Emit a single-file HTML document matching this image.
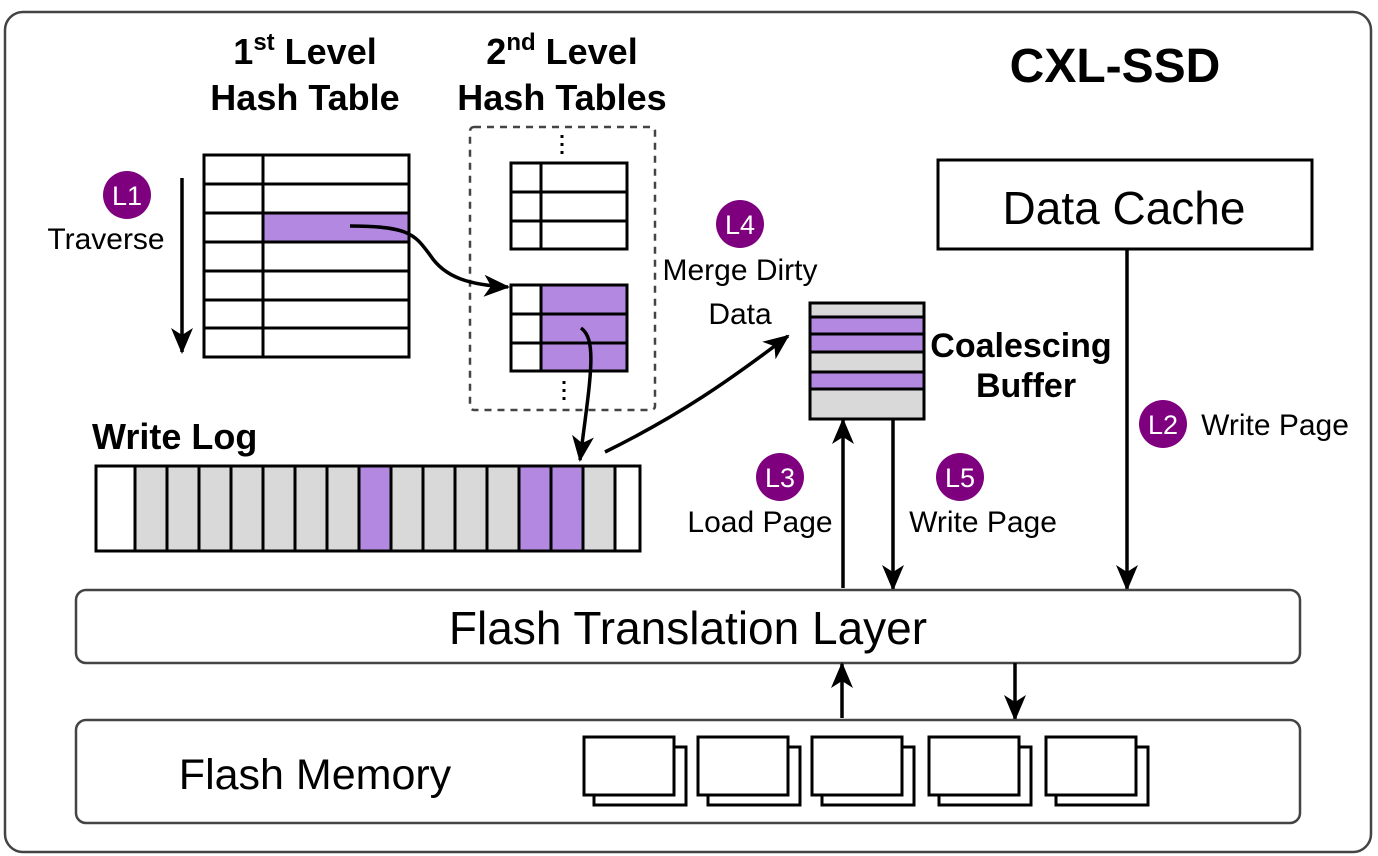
<!DOCTYPE html>
<html><head><meta charset="utf-8"><style>
html,body{margin:0;padding:0;background:#fff;}
svg{display:block;font-family:"Liberation Sans",sans-serif;}
</style></head><body>
<svg width="1378" height="856" viewBox="0 0 1378 856" xmlns="http://www.w3.org/2000/svg">
<defs>
<marker id="ah" viewBox="0 0 26 22" refX="24" refY="11" markerWidth="26" markerHeight="22" markerUnits="userSpaceOnUse" orient="auto">
<path d="M0,0 L26,11 L0,22 L7,11 z" fill="#000"/>
</marker>
</defs>
<rect x="5" y="12" width="1366" height="840" rx="18" fill="#fff" stroke="#444" stroke-width="2.5"/>

<!-- titles -->
<text x="1115" y="82" font-size="48" font-weight="bold" text-anchor="middle">CXL-SSD</text>
<text x="305" y="64" font-size="36" font-weight="bold" text-anchor="middle">1<tspan font-size="24" dy="-14">st</tspan><tspan dy="14"> Level</tspan></text>
<text x="305" y="110" font-size="36" font-weight="bold" text-anchor="middle">Hash Table</text>
<text x="562" y="64" font-size="36" font-weight="bold" text-anchor="middle">2<tspan font-size="24" dy="-14">nd</tspan><tspan dy="14"> Level</tspan></text>
<text x="562" y="110" font-size="36" font-weight="bold" text-anchor="middle">Hash Tables</text>

<!-- 1st level table -->
<g stroke="#000" stroke-width="3" fill="#fff">
<rect x="263" y="213" width="146" height="29" fill="#b388e0" stroke="none"/>
<rect x="204" y="155" width="205" height="202" fill="none"/>
<line x1="263" y1="155" x2="263" y2="357"/>
<line x1="204" y1="184" x2="409" y2="184"/>
<line x1="204" y1="213" x2="409" y2="213"/>
<line x1="204" y1="242" x2="409" y2="242"/>
<line x1="204" y1="271" x2="409" y2="271"/>
<line x1="204" y1="300" x2="409" y2="300"/>
<line x1="204" y1="328" x2="409" y2="328"/>
</g>
<line x1="182" y1="178" x2="182" y2="352" stroke="#000" stroke-width="3.5" marker-end="url(#ah)"/>
<circle cx="127" cy="195" r="24" fill="#7f007f"/>
<text x="127" y="205" font-size="27" fill="#fff" text-anchor="middle">L1</text>
<text x="106" y="249" font-size="30" text-anchor="middle">Traverse</text>

<!-- 2nd level -->
<rect x="470" y="127" width="185" height="283" rx="4" fill="none" stroke="#444" stroke-width="2.5" stroke-dasharray="7,6"/>
<line x1="562" y1="135" x2="562" y2="156" stroke="#000" stroke-width="3" stroke-dasharray="3,5"/>
<line x1="564" y1="381" x2="564" y2="402" stroke="#000" stroke-width="3" stroke-dasharray="3,5"/>
<g stroke="#000" stroke-width="3" fill="none">
<rect x="511" y="163" width="116" height="86"/>
<line x1="541" y1="163" x2="541" y2="249"/>
<line x1="511" y1="192" x2="627" y2="192"/>
<line x1="511" y1="221" x2="627" y2="221"/>
<rect x="541" y="285" width="86" height="86" fill="#b388e0" stroke="none"/>
<rect x="511" y="285" width="116" height="86"/>
<line x1="541" y1="285" x2="541" y2="371"/>
<line x1="511" y1="314" x2="627" y2="314"/>
<line x1="511" y1="343" x2="627" y2="343"/>
</g>
<path d="M350,226 C410,226 415,235 430,255 C445,278 470,285 508,287" fill="none" stroke="#000" stroke-width="3.5" marker-end="url(#ah)"/>
<path d="M581,328 C598,340 590,380 580,460" fill="none" stroke="#000" stroke-width="3.5" marker-end="url(#ah)"/>

<!-- write log -->
<text x="92" y="449" font-size="36" font-weight="bold">Write Log</text>
<g stroke="#000" stroke-width="3">
<rect x="96" y="466" width="544" height="85" fill="#fff"/>
<rect x="135" y="466" width="480" height="85" fill="#d9d9d9"/>
<rect x="359" y="466" width="32" height="85" fill="#b388e0"/>
<rect x="519" y="466" width="64" height="85" fill="#b388e0"/>
<line x1="167" y1="466" x2="167" y2="551"/><line x1="199" y1="466" x2="199" y2="551"/>
<line x1="231" y1="466" x2="231" y2="551"/><line x1="263" y1="466" x2="263" y2="551"/>
<line x1="295" y1="466" x2="295" y2="551"/><line x1="327" y1="466" x2="327" y2="551"/>
<line x1="423" y1="466" x2="423" y2="551"/><line x1="455" y1="466" x2="455" y2="551"/>
<line x1="487" y1="466" x2="487" y2="551"/><line x1="551" y1="466" x2="551" y2="551"/>
</g>

<!-- merge arrow -->
<path d="M605,452 C680,415 730,380 788,336" fill="none" stroke="#000" stroke-width="3.5" marker-end="url(#ah)"/>
<circle cx="740" cy="224" r="24" fill="#7f007f"/>
<text x="740" y="234" font-size="27" fill="#fff" text-anchor="middle">L4</text>
<text x="740" y="280" font-size="30" text-anchor="middle">Merge Dirty</text>
<text x="740" y="324" font-size="30" text-anchor="middle">Data</text>

<!-- coalescing buffer -->
<g stroke="#000" stroke-width="3">
<rect x="810" y="303" width="114" height="116" fill="#d9d9d9"/>
<rect x="810" y="317" width="114" height="17" fill="#b388e0"/>
<rect x="810" y="334" width="114" height="18" fill="#b388e0"/>
<rect x="810" y="372" width="114" height="17" fill="#b388e0"/>
</g>
<text x="1021" y="357" font-size="34" font-weight="bold" text-anchor="middle">Coalescing</text>
<text x="1026" y="397" font-size="34" font-weight="bold" text-anchor="middle">Buffer</text>

<line x1="843" y1="588" x2="843" y2="420" stroke="#000" stroke-width="3.5" marker-end="url(#ah)"/>
<line x1="893" y1="420" x2="893" y2="589" stroke="#000" stroke-width="3.5" marker-end="url(#ah)"/>
<circle cx="780" cy="477" r="24" fill="#7f007f"/>
<text x="780" y="487" font-size="27" fill="#fff" text-anchor="middle">L3</text>
<text x="760" y="532" font-size="30" text-anchor="middle">Load Page</text>
<circle cx="960" cy="477" r="24" fill="#7f007f"/>
<text x="960" y="487" font-size="27" fill="#fff" text-anchor="middle">L5</text>
<text x="983" y="532" font-size="30" text-anchor="middle">Write Page</text>

<!-- data cache -->
<rect x="938" y="160" width="374" height="89" fill="#fff" stroke="#000" stroke-width="3"/>
<text x="1124" y="224" font-size="46" text-anchor="middle">Data Cache</text>
<line x1="1127" y1="249" x2="1127" y2="589" stroke="#000" stroke-width="3.5" marker-end="url(#ah)"/>
<circle cx="1163" cy="424" r="24" fill="#7f007f"/>
<text x="1163" y="434" font-size="27" fill="#fff" text-anchor="middle">L2</text>
<text x="1275" y="435" font-size="30" text-anchor="middle">Write Page</text>

<!-- FTL -->
<rect x="76" y="590" width="1224" height="73" rx="10" fill="#fff" stroke="#444" stroke-width="2.5"/>
<text x="688" y="644" font-size="46" text-anchor="middle">Flash Translation Layer</text>
<line x1="842" y1="718" x2="842" y2="664" stroke="#000" stroke-width="3.5" marker-end="url(#ah)"/>
<line x1="1015" y1="663" x2="1015" y2="719" stroke="#000" stroke-width="3.5" marker-end="url(#ah)"/>

<!-- flash memory -->
<rect x="76" y="720" width="1224" height="103" rx="10" fill="#fff" stroke="#444" stroke-width="2.5"/>
<text x="315" y="789" font-size="43" text-anchor="middle">Flash Memory</text>
<g stroke="#000" stroke-width="3" fill="#fff">
<rect x="594" y="747" width="92" height="58"/><rect x="584" y="737" width="90" height="58"/>
<rect x="708" y="747" width="92" height="58"/><rect x="698" y="737" width="90" height="58"/>
<rect x="822" y="747" width="92" height="58"/><rect x="812" y="737" width="90" height="58"/>
<rect x="939" y="747" width="92" height="58"/><rect x="929" y="737" width="90" height="58"/>
<rect x="1056" y="747" width="92" height="58"/><rect x="1046" y="737" width="90" height="58"/>
</g>
</svg>
</body></html>
